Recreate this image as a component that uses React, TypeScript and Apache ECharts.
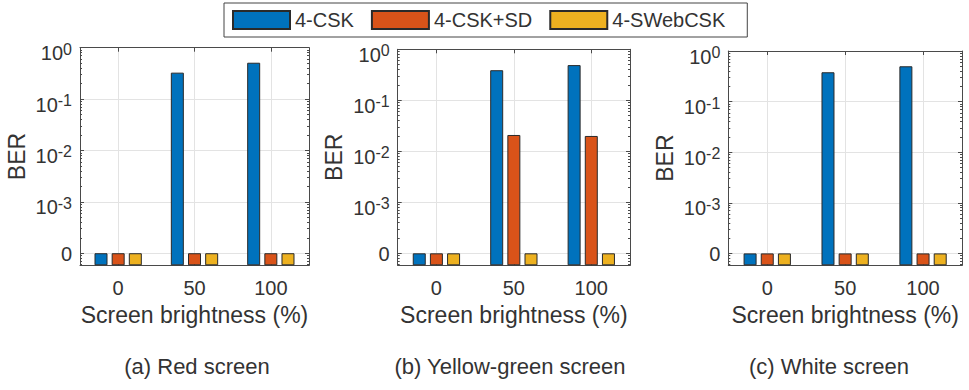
import React, { useEffect, useRef } from "react";
import * as echarts from "echarts";

// ---------- data ----------
const brightness = [0, 50, 100];
const seriesNames = ["4-CSK", "4-CSK+SD", "4-SWebCSK"];
const seriesColors = ["#0072BD", "#D95319", "#EDB120"];

const redCSK = [0, 0.327, 0.51];
const redCSKSD = [0, 0, 0];
const redSWebCSK = [0, 0, 0];

const ygCSK = [0, 0.389, 0.49];
const ygCSKSD = [0, 0.0209, 0.02];
const ygSWebCSK = [0, 0, 0];

const whiteCSK = [0, 0.38, 0.499];
const whiteCSKSD = [0, 0, 0];
const whiteSWebCSK = [0, 0, 0];

const captions = ["(a) Red screen", "(b) Yellow-green screen", "(c) White screen"];
const yTickExponents = [-4, -3, -2, -1, 0]; // -4 is drawn as "0"
const xAxisName = "Screen brightness (%)";
const yAxisName = "BER";

// ---------- helpers ----------
const FLOOR = 1e-4; // zero values are drawn at this level
const OFFSET = 4.235; // axis spans 10^-4.235 .. 10^0
const toY = (v: number) => Math.log10(Math.max(v, FLOOR)) + OFFSET;

const majorVals = yTickExponents.map((e) => e + OFFSET);
const minorVals: number[] = [];
for (let k = -5; k <= -1; k++) {
  for (let m = 2; m <= 9; m++) {
    const y = Math.log10(m * Math.pow(10, k)) + OFFSET;
    if (y > 0 && y < OFFSET) minorVals.push(y);
  }
}

const panels = [
  { data: [redCSK, redCSKSD, redSWebCSK], left: 80, top: 47.7, width: 229, height: 217.6, cap: 197 },
  { data: [ygCSK, ygCSKSD, ygSWebCSK], left: 397.7, top: 49.3, width: 232.3, height: 216, cap: 510 },
  { data: [whiteCSK, whiteCSKSD, whiteSWebCSK], left: 728.3, top: 51, width: 233.7, height: 214.3, cap: 829 },
];

const TEXT = "#333333";
const AXIS = "#4a4a4a";
const GRIDC = "#e3e3e3";
const FONT = "'Liberation Sans', Arial, Helvetica, sans-serif";

export default function App() {
  const ref = useRef<HTMLDivElement>(null);

  useEffect(() => {
    document.body.style.margin = "0";
    if (!ref.current) return;
    const chart = echarts.init(ref.current, undefined, { renderer: "svg" });

    const grid: any[] = [];
    const xAxis: any[] = [];
    const yAxis: any[] = [];
    const series: any[] = [];
    const graphic: any[] = [];

    panels.forEach((p, i) => {
      grid.push({
        left: p.left,
        top: p.top,
        width: p.width,
        height: p.height,
        containLabel: false,
        outerBoundsMode: "none",
      });
      // bottom x axis
      xAxis.push({
        type: "value",
        gridIndex: i,
        position: "bottom",
        min: -25,
        max: 125,
        axisLine: { show: true, onZero: false, lineStyle: { color: AXIS, width: 1 } },
        axisTick: { show: true, inside: true, length: 4, customValues: brightness, lineStyle: { color: AXIS } },
        axisLabel: {
          show: true,
          customValues: brightness,
          fontSize: 20,
          color: TEXT,
          margin: 13,
          fontFamily: FONT,
          formatter: (v: number) => String(v),
        },
        splitLine: { show: true, lineStyle: { color: GRIDC, width: 1 } },
        name: xAxisName,
        nameLocation: "middle",
        nameGap: 36,
        nameTextStyle: { fontSize: 23, color: TEXT, fontFamily: FONT },
      });
      // top x axis (box)
      xAxis.push({
        type: "value",
        gridIndex: i,
        position: "top",
        min: -25,
        max: 125,
        axisLine: { show: true, onZero: false, lineStyle: { color: AXIS, width: 1 } },
        axisTick: { show: true, inside: true, length: 4, customValues: brightness, lineStyle: { color: AXIS } },
        axisLabel: { show: false },
        splitLine: { show: false },
      });
      // main left y axis
      yAxis.push({
        type: "value",
        gridIndex: i,
        position: "left",
        min: 0,
        max: OFFSET,
        axisLine: { show: true, onZero: false, lineStyle: { color: AXIS, width: 1 } },
        axisTick: { show: true, inside: true, length: 4, customValues: majorVals, lineStyle: { color: AXIS } },
        axisLabel: {
          show: true,
          customValues: majorVals,
          margin: 8,
          color: TEXT,
          fontFamily: FONT,
          padding: [9, 0, 0, 0],
          formatter: (v: number) => {
            const e = Math.round(v - OFFSET);
            if (e === -4) return "{zero|0}";
            return `{base|10}{sup|${e}}`;
          },
          rich: {
            base: { fontSize: 20, lineHeight: 22, verticalAlign: "bottom", padding: [5.5, 0, 0, 0], color: TEXT, fontFamily: FONT },
            sup: { fontSize: 16, lineHeight: 16, verticalAlign: "top", color: TEXT, fontFamily: FONT },
            zero: { fontSize: 20, lineHeight: 22, padding: [0, 0, 7, 0], color: TEXT, fontFamily: FONT },
          },
        },
        splitLine: { show: true, lineStyle: { color: GRIDC, width: 1 } },
        name: yAxisName,
        nameLocation: "middle",
        nameGap: 52,
        nameRotate: 90,
        nameTextStyle: { fontSize: 23, color: TEXT, fontFamily: FONT },
      });
      // left minor ticks
      yAxis.push({
        type: "value",
        gridIndex: i,
        position: "left",
        min: 0,
        max: OFFSET,
        axisLine: { show: false, onZero: false },
        axisTick: { show: true, inside: true, length: 2, customValues: minorVals, lineStyle: { color: AXIS } },
        axisLabel: { show: false },
        splitLine: { show: false },
      });
      // right major
      yAxis.push({
        type: "value",
        gridIndex: i,
        position: "right",
        min: 0,
        max: OFFSET,
        axisLine: { show: true, onZero: false, lineStyle: { color: AXIS, width: 1 } },
        axisTick: { show: true, inside: true, length: 4, customValues: majorVals, lineStyle: { color: AXIS } },
        axisLabel: { show: false },
        splitLine: { show: false },
      });
      // right minor
      yAxis.push({
        type: "value",
        gridIndex: i,
        position: "right",
        min: 0,
        max: OFFSET,
        axisLine: { show: false, onZero: false },
        axisTick: { show: true, inside: true, length: 2, customValues: minorVals, lineStyle: { color: AXIS } },
        axisLabel: { show: false },
        splitLine: { show: false },
      });

      p.data.forEach((vals, s) => {
        series.push({
          type: "bar",
          name: seriesNames[s],
          xAxisIndex: 2 * i,
          yAxisIndex: 4 * i,
          barWidth: 13,
          barGap: "32%",
          itemStyle: { color: seriesColors[s], borderColor: "#2a2a2a", borderWidth: 1 },
          data: brightness.map((b, j) => [b, toY(vals[j])]),
        });
      });

      graphic.push({
        type: "text",
        x: p.cap,
        y: 366,
        style: {
          text: captions[i],
          fontSize: 22,
          fontFamily: FONT,
          fill: TEXT,
          textAlign: "center",
          textVerticalAlign: "middle",
        },
      });
    });

    chart.setOption({
      animation: false,
      backgroundColor: "#ffffff",
      textStyle: { fontFamily: FONT, color: TEXT },
      legend: {
        data: seriesNames,
        left: 224,
        top: 3,
        orient: "horizontal",
        padding: [7, 22, 7, 8],
        itemWidth: 57,
        itemHeight: 18,
        itemGap: 17,
        icon: "rect",
        borderColor: "#444",
        borderWidth: 1,
        backgroundColor: "#fff",
        selectedMode: false,
        textStyle: { fontSize: 20, color: TEXT, fontFamily: FONT },
      },
      grid,
      xAxis,
      yAxis,
      series,
      graphic,
    });

    return () => chart.dispose();
  }, []);

  return <div ref={ref} style={{ width: 969, height: 390 }} />;
}
